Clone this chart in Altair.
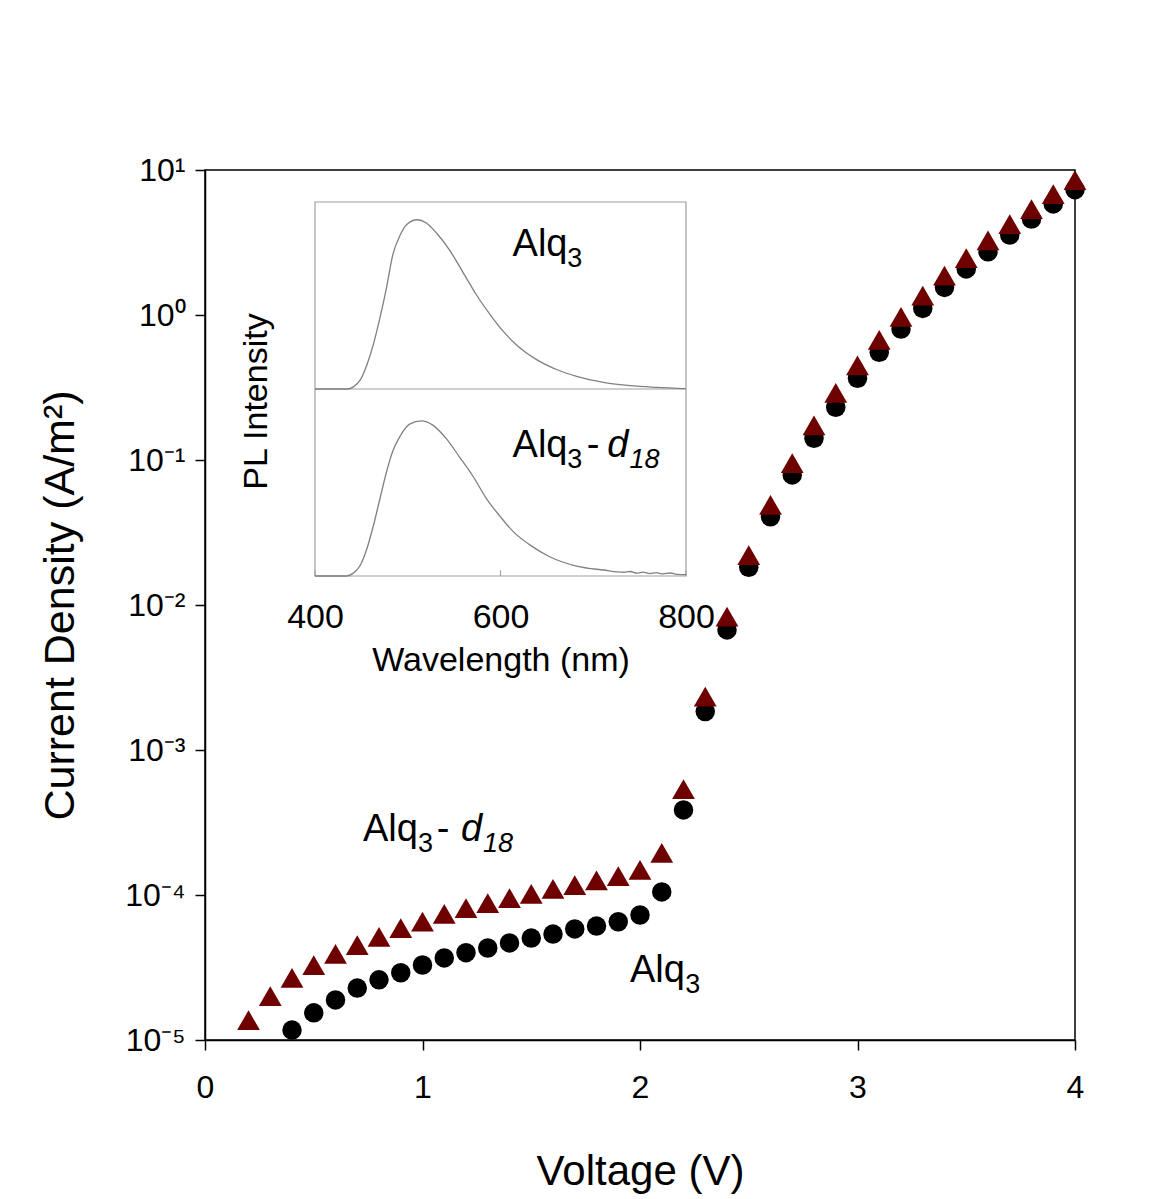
import altair as alt
import pandas as pd

# ---------------- Main J-V data ----------------
V_ALQ3 = [0.4, 0.5, 0.6, 0.7, 0.8, 0.9, 1.0, 1.1, 1.2, 1.3, 1.4, 1.5, 1.6, 1.7, 1.8, 1.9,
          2.0, 2.1, 2.2, 2.3, 2.4, 2.5, 2.6, 2.7, 2.8, 2.9, 3.0, 3.1, 3.2, 3.3, 3.4, 3.5,
          3.6, 3.7, 3.8, 3.9, 4.0]
J_ALQ3 = [1.17e-5, 1.54e-5, 1.89e-5, 2.28e-5, 2.60e-5, 2.91e-5, 3.29e-5, 3.68e-5, 4.00e-5,
          4.31e-5, 4.67e-5, 5.05e-5, 5.38e-5, 5.83e-5, 6.11e-5, 6.54e-5, 7.28e-5, 1.05e-4,
          3.86e-4, 1.84e-3, 6.73e-3, 0.0182, 0.0406, 0.0789, 0.141, 0.231, 0.366, 0.553,
          0.80, 1.11, 1.55, 2.08, 2.73, 3.56, 4.59, 5.83, 7.31]

V_D18 = [0.2, 0.3, 0.4, 0.5, 0.6, 0.7, 0.8, 0.9, 1.0, 1.1, 1.2, 1.3, 1.4, 1.5, 1.6, 1.7,
         1.8, 1.9, 2.0, 2.1, 2.2, 2.3, 2.4, 2.5, 2.6, 2.7, 2.8, 2.9, 3.0, 3.1, 3.2, 3.3,
         3.4, 3.5, 3.6, 3.7, 3.8, 3.9, 4.0]
J_D18 = [1.37e-5, 2.01e-5, 2.68e-5, 3.29e-5, 3.92e-5, 4.52e-5, 5.15e-5, 5.91e-5, 6.54e-5,
         7.40e-5, 8.13e-5, 8.80e-5, 9.53e-5, 1.02e-4, 1.10e-4, 1.17e-4, 1.26e-4, 1.35e-4,
         1.49e-4, 1.95e-4, 5.38e-4, 2.33e-3, 8.30e-3, 0.0221, 0.049, 0.0953, 0.173, 0.29,
         0.449, 0.673, 0.969, 1.36, 1.87, 2.47, 3.27, 4.24, 5.38, 6.83, 8.53]

X_TICKS = [0, 1, 2, 3, 4]
Y_TICKS = [1e-5, 1e-4, 1e-3, 1e-2, 1e-1, 1, 10]
Y_TICK_LABELS = ["10⁻⁵", "10⁻⁴", "10⁻³", "10⁻²", "10⁻¹", "10⁰", "10¹"]

# main annotations, split into pieces (big / subscript / italic)
MAIN_ANN_TEXT = ["Alq", "3", "-", "d", "18", "Alq", "3"]
MAIN_ANN_KIND = ["big", "sub", "big", "ibig", "isub", "big", "sub"]
MAIN_ANN_V = [0.726, 0.979, 1.066, 1.177, 1.278, 1.954, 2.208]
MAIN_ANN_J = [2.37e-4, 2.37e-4, 2.37e-4, 2.37e-4, 2.37e-4, 2.52e-5, 2.52e-5]

# ---------------- Inset PL spectra ----------------
WL_TOP = [400, 435, 441, 449, 456, 463, 470, 477, 484, 492, 499, 510, 520, 531, 546, 560,
          574, 589, 603, 617, 639, 661, 682, 711, 740, 768, 800]
PL_TOP = [0, 0, 0.01, 0.05, 0.13, 0.24, 0.38, 0.54, 0.72, 0.825, 0.88, 0.905, 0.888, 0.834,
          0.736, 0.62, 0.504, 0.397, 0.308, 0.237, 0.157, 0.103, 0.068, 0.036, 0.018, 0.009,
          0.002]
WL_BOT = [400, 434, 441, 449, 456, 463, 470, 477, 484, 492, 502, 515, 527, 542, 556, 571,
          585, 600, 614, 632, 653, 682, 711, 733, 740, 747, 754, 761, 768, 775, 783, 790, 800]
PL_BOT = [0, 0, 0.014, 0.059, 0.147, 0.27, 0.413, 0.555, 0.67, 0.75, 0.812, 0.83, 0.807,
          0.732, 0.635, 0.528, 0.413, 0.316, 0.236, 0.165, 0.103, 0.053, 0.032, 0.02, 0.024,
          0.015, 0.021, 0.013, 0.018, 0.011, 0.016, 0.009, 0.007]
WL_DOMAIN = [400, 800]
WL_TICKS = [400, 600, 800]

INSET_ANN_TEXT = ["Alq", "3", "Alq", "3", "-", "d", "18"]
INSET_ANN_KIND = ["big", "sub", "big", "sub", "big", "ibig", "isub"]
INSET_ANN_WL = [613, 672, 613, 672, 693, 715, 739]
INSET_ANN_I = [1.711, 1.711, 0.638, 0.638, 0.638, 0.638, 0.638]

FONT = "Liberation Sans"
RED = "#6e0000"
BIG = 38
SUB = 27
SUB_DY = 11

# ---------------- Build tables ----------------
df_alq3 = pd.DataFrame({"V": V_ALQ3, "J": J_ALQ3})
df_d18 = pd.DataFrame({"V": V_D18, "J": J_D18})
df_main_ann = pd.DataFrame({"V": MAIN_ANN_V, "J": MAIN_ANN_J, "label": MAIN_ANN_TEXT,
                            "kind": MAIN_ANN_KIND})

df_top = pd.DataFrame({"wl": WL_TOP, "I": [p + 1 for p in PL_TOP]})
df_bot = pd.DataFrame({"wl": WL_BOT, "I": PL_BOT})
df_frame = pd.DataFrame({"wl": [WL_DOMAIN[0]], "wl2": [WL_DOMAIN[1]], "I": [0], "I2": [2]})
df_div = pd.DataFrame({"wl": [WL_DOMAIN[0]], "wl2": [WL_DOMAIN[1]], "I": [1]})
df_ticks = pd.DataFrame({"wl": WL_TICKS, "I": [0] * len(WL_TICKS), "I2": [0.03] * len(WL_TICKS)})
df_in_ann = pd.DataFrame({"wl": INSET_ANN_WL, "I": INSET_ANN_I, "label": INSET_ANN_TEXT,
                          "kind": INSET_ANN_KIND})

label_expr = "[" + ",".join("'" + t + "'" for t in Y_TICK_LABELS) + "][round(log(datum.value)/LN10)+5]"

x_main = alt.X(
    "V:Q",
    scale=alt.Scale(domain=[0, 4], nice=False, zero=False),
    axis=alt.Axis(values=X_TICKS, title="Voltage (V)", format="d", tickSize=10,
                  labelPadding=22, titlePadding=48, labelFontSize=32, titleFontSize=42,
                  labelFlush=False, labelOverlap=False, grid=False),
)
y_main = alt.Y(
    "J:Q",
    scale=alt.Scale(type="log", domain=[1e-5, 10], nice=False),
    axis=alt.Axis(values=Y_TICKS, labelExpr=label_expr, title="Current Density (A/m²)",
                  tickSize=10, labelPadding=10, titlePadding=42, labelFontSize=32,
                  titleFontSize=43, labelFlush=False, labelOverlap=False, grid=False),
)


def text_layers(df, x_enc, y_enc):
    layers = []
    for kind, size, style, dy in [("big", BIG, "normal", 0), ("sub", SUB, "normal", SUB_DY),
                                  ("ibig", BIG, "italic", 0), ("isub", SUB, "italic", SUB_DY)]:
        layers.append(
            alt.Chart(df).transform_filter(alt.datum.kind == kind).mark_text(
                align="left", baseline="alphabetic", fontSize=size, font=FONT,
                fontStyle=style, dy=dy, color="black"
            ).encode(x=x_enc, y=y_enc, text="label:N")
        )
    return layers


circles = alt.Chart(df_alq3).mark_point(
    shape="circle", filled=True, size=380, color="black", opacity=1
).encode(x=x_main, y=y_main)

triangles = alt.Chart(df_d18).mark_point(
    shape="triangle-up", filled=True, size=520, color=RED, opacity=1
).encode(x=x_main, y=y_main)

main = alt.layer(circles, triangles, *text_layers(df_main_ann, x_main, y_main))

# ---------------- Inset ----------------
x_in = alt.X(
    "wl:Q",
    scale=alt.Scale(domain=WL_DOMAIN, range=[110, 481], nice=False, zero=False),
    axis=alt.Axis(orient="bottom", offset=-464, values=WL_TICKS, title="Wavelength (nm)",
                  domain=False, ticks=False, grid=False, labelFontSize=34, titleFontSize=34,
                  labelPadding=24, titlePadding=9, labelFlush=False, labelOverlap=False),
)
y_in = alt.Y(
    "I:Q",
    scale=alt.Scale(domain=[0, 2], range=[406, 32], nice=False, zero=False),
    axis=alt.Axis(orient="left", offset=-110, title="PL Intensity", labels=False,
                  ticks=False, domain=False, grid=False, titleFontSize=34, titlePadding=42,
                  titleY=231),
)

frame = alt.Chart(df_frame).mark_rect(
    fillOpacity=0, stroke="#a0a0a0", strokeWidth=1.2
).encode(x=x_in, x2="wl2:Q", y=y_in, y2="I2:Q")

divider = alt.Chart(df_div).mark_rule(color="#a0a0a0", strokeWidth=1.2).encode(
    x=x_in, x2="wl2:Q", y=y_in)

ticks = alt.Chart(df_ticks).mark_rule(color="#a0a0a0", strokeWidth=1.2).encode(
    x=x_in, y=y_in, y2="I2:Q")

line_top = alt.Chart(df_top).mark_line(color="#808080", strokeWidth=1.3,
                                       interpolate="monotone").encode(x=x_in, y=y_in)
line_bot = alt.Chart(df_bot).mark_line(color="#808080", strokeWidth=1.3,
                                       interpolate="monotone").encode(x=x_in, y=y_in)

inset = alt.layer(frame, divider, ticks, line_top, line_bot,
                  *text_layers(df_in_ann, x_in, y_in))

chart = alt.layer(main, inset).resolve_scale(
    x="independent", y="independent"
).properties(
    width=870, height=870,
    autosize=alt.AutoSizeParams(type="none"),
    padding={"left": 197, "top": 162, "right": 70, "bottom": 160},
).configure_view(
    stroke="black", strokeWidth=1.5
).configure_axis(
    labelFont=FONT, titleFont=FONT, labelColor="black", titleColor="black",
    titleFontWeight="normal", domainColor="black", tickColor="black",
    domainWidth=1.5, tickWidth=1.5,
)

chart.save("out.html", embed_options={"renderer": "svg", "actions": False})
